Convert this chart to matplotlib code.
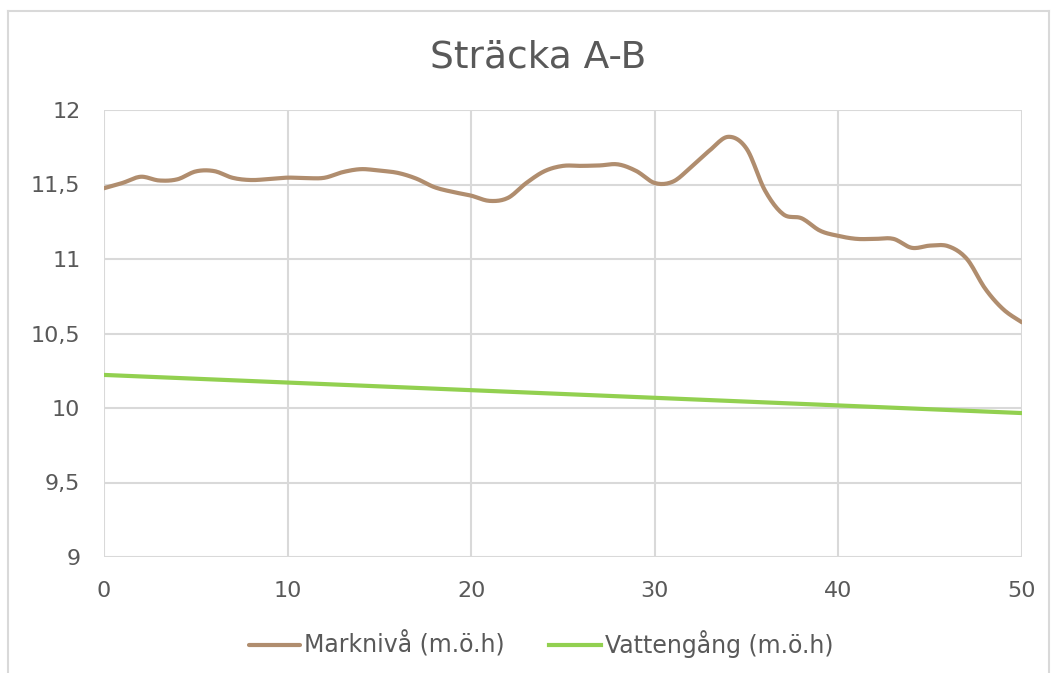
import numpy as np
import matplotlib
matplotlib.use("Agg")
import matplotlib.pyplot as plt
from matplotlib.lines import Line2D
from matplotlib.ticker import FuncFormatter

# distance along the stretch (m) and levels (m.ö.h)
distance = list(range(0, 51))
marknivaa = [11.475, 11.51, 11.552, 11.527, 11.535, 11.588, 11.59, 11.545, 11.53, 11.537,
             11.546, 11.543, 11.545, 11.583, 11.603, 11.593, 11.578, 11.54, 11.482, 11.45,
             11.425, 11.39, 11.41, 11.51, 11.59, 11.625, 11.625, 11.628, 11.635, 11.59,
             11.51, 11.52, 11.62, 11.73, 11.82, 11.74, 11.46, 11.30, 11.273, 11.19,
             11.155, 11.135, 11.135, 11.135, 11.075, 11.09, 11.085, 11.00, 10.80, 10.66,
             10.575]
vatten_x = [0, 50]
vattengang = [10.222, 9.966]

title = "Sträcka A-B"
labels = ["Marknivå (m.ö.h)", "Vattengång (m.ö.h)"]
brown = "#b08d6e"
green = "#92d050"
textcol = "#595959"
gridcol = "#d9d9d9"


def smooth(x, y, steps=12):
    # excel style smoothed line (catmull-rom through the points)
    x = np.asarray(x, float)
    y = np.asarray(y, float)
    px = np.concatenate([[x[0]], x, [x[-1]]])
    py = np.concatenate([[y[0]], y, [y[-1]]])
    t = np.linspace(0, 1, steps, endpoint=False)
    outx, outy = [], []
    for i in range(1, len(px) - 2):
        for arr, out in ((px, outx), (py, outy)):
            p0, p1, p2, p3 = arr[i - 1], arr[i], arr[i + 1], arr[i + 2]
            out.extend(0.5 * (2 * p1 + (-p0 + p2) * t
                              + (2 * p0 - 5 * p1 + 4 * p2 - p3) * t ** 2
                              + (-p0 + 3 * p1 - 3 * p2 + p3) * t ** 3))
    outx.append(x[-1])
    outy.append(y[-1])
    return outx, outy


fig = plt.figure(figsize=(10.54, 6.73), dpi=100)
ax = fig.add_axes([104 / 1054, 1 - 557 / 673, 918 / 1054, 447 / 673])

sx, sy = smooth(distance, marknivaa)
ax.plot(sx, sy, color=brown, lw=3, label=labels[0], solid_capstyle="round", zorder=3)
ax.plot(vatten_x, vattengang, color=green, lw=3, label=labels[1], zorder=3)

ax.set_xlim(0, 50)
ax.set_ylim(9, 12)
ax.set_xticks(range(0, 51, 10))
ax.set_yticks(np.arange(9, 12.01, 0.5))
ax.yaxis.set_major_formatter(FuncFormatter(lambda v, p: ("%g" % v).replace(".", ",")))
ax.grid(True, color=gridcol, lw=1.5)
ax.set_axisbelow(True)
for s in ax.spines.values():
    s.set_visible(False)
ax.tick_params(length=0, labelsize=16, labelcolor=textcol)
ax.tick_params(axis="x", pad=17)
ax.tick_params(axis="y", pad=17)

fig.text(538 / 1054, 1 - 57 / 673, title, ha="center", va="center",
         fontsize=27, color=textcol)

leg = fig.legend(loc="center", bbox_to_anchor=(541 / 1054, 1 - 644 / 673), ncol=2,
                 frameon=False, fontsize=17, handlelength=2.2, handletextpad=0.15,
                 columnspacing=1.9)
for t in leg.get_texts():
    t.set_color(textcol)

# outer chart border
for xs, ys in (([8, 8], [673, 11]), ([8, 1049], [11, 11]), ([1049, 1049], [11, 673])):
    fig.add_artist(Line2D([v / 1054 for v in xs], [1 - v / 673 for v in ys],
                          color=gridcol, lw=1.5))

fig.savefig("out.png", dpi=100)
